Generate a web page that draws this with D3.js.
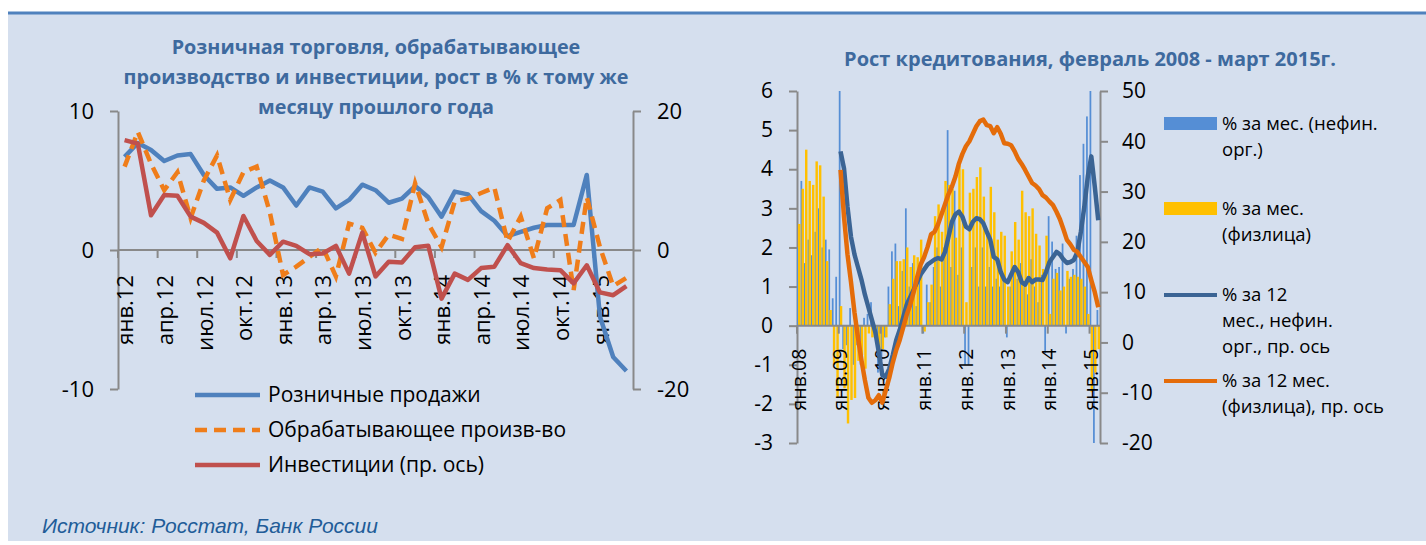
<!DOCTYPE html>
<html lang="ru">
<head>
<meta charset="utf-8">
<title>Розничная торговля и кредитование</title>
<script src="https://cdn.jsdelivr.net/npm/d3@7"></script>
<style>
  body { margin: 0; background: #fff; }
  svg { display: block; font-family: "Open Sans", "Noto Sans", sans-serif; }
</style>
</head>
<body>
<div id="chart"></div>
<script>
// ---- данные ----
const monthNames = ["янв", "фев", "мар", "апр", "май", "июн", "июл", "авг", "сен", "окт", "ноя", "дек"];

// левый график: янв.12 - мар.15
const leftCats = d3.range(39).map((i) => `${monthNames[i % 12]}.${12 + Math.floor(i / 12)}`);
const retail = [6.7, 7.7, 7.2, 6.4, 6.8, 6.9, 5.4, 4.4, 4.5, 3.9, 4.5, 5.0,
  4.5, 3.2, 4.5, 4.2, 3.0, 3.6, 4.7, 4.3, 3.4, 3.7, 4.6, 3.8,
  2.4, 4.2, 4.0, 2.8, 2.1, 1.0, 1.3, 1.6, 1.8, 1.8, 1.8, 5.4,
  -4.8, -7.7, -8.7];
const manuf = [6.0, 8.5, 6.2, 4.3, 5.6, 2.3, 5.0, 6.8, 3.6, 5.6, 6.0, 2.7,
  -1.8, -1.2, -0.5, 0.2, -1.9, 1.9, 1.6, -0.2, 1.1, 0.8, 4.8, 1.9,
  0.2, 3.5, 3.7, 4.1, 4.5, 0.6, 2.4, -0.6, 3.0, 3.6, -2.9, 3.8,
  0.2, -2.6, -2.0];
const invest = [15.8, 15.3, 5.0, 7.9, 7.8, 4.8, 3.9, 2.5, -1.2, 4.9, 1.3, -0.7,
  1.2, 0.6, -0.6, -0.5, 0.6, -3.4, 2.5, -3.8, -1.7, -1.8, 0.4, 0.6,
  -7.0, -3.4, -4.3, -2.6, -2.4, 0.7, -1.9, -2.6, -2.8, -2.9, -4.8, -2.2,
  -6.1, -6.5, -5.2];
const leftTitle = ["Розничная торговля, обрабатывающее",
  "производство и инвестиции, рост в % к тому же", "месяцу прошлого года"];
const leftNames = ["Розничные продажи", "Обрабатывающее произв-во", "Инвестиции (пр. ось)"];
const leftTicks = [-10, 0, 10];
const leftTicksR = [-20, 0, 20];

// правый график: янв.08 - мар.15
const creditCats = d3.range(87).map((i) => `${monthNames[i % 12]}.${String(8 + Math.floor(i / 12)).padStart(2, "0")}`);
const corpMonth = [2.0, 3.7, 1.6, 2.2, 1.8, 2.4, 3.0, 2.0, 2.2, 1.95, 0.7, 1.25,
  6.0, -0.6, -0.5, 0.45, -1.0, -0.5, -1.0, 0.2, 0.3, 0.6, -0.2, -1.2,
  -0.9, -0.3, 1.0, 1.9, 2.1, 0.5, 1.4, 3.0, 1.0, 1.6, 0.5, 1.3,
  -0.2, 1.05, 0.6, 1.5, 2.0, 1.0, 2.0, 5.0, 1.5, 3.45, 1.3, 2.0,
  -1.0, -1.0, 1.5, 2.0, 1.0, 2.0, 1.0, 1.5, 1.0, 1.2, 1.0, 1.3,
  -0.3, 1.0, 1.5, 1.2, 1.6, 1.0, 0.8, 1.7, 1.0, 0.6, 1.3, -0.7,
  2.8, 2.15, 1.45, 1.5, 2.1, -0.2, 1.2, 1.45, 2.3, 3.85, 4.65, 5.35,
  6.0, -3.0, 0.4];
const hhMonth = [2.6, 3.5, 4.5, 3.7, 3.6, 4.2, 4.1, 3.3, 1.65, 0.4, -1.0, -1.85,
  0.5, -1.6, -2.5, -1.9, -1.85, -0.9, -0.75, -1.1, -0.2, -0.3, -0.2, -0.65,
  -0.6, -0.3, 0.55, 1.2, 1.65, 1.65, 1.7, 2.0, 1.5, 1.8, 1.75, 2.2,
  -0.15, 0.6, 1.05, 2.8, 3.1, 2.4, 3.7, 3.6, 3.5, 2.25, 4.1, 4.0,
  0.6, 3.4, 3.5, 3.8, 4.05, 3.3, 2.4, 3.55, 2.9, 2.2, 2.4, 2.3,
  1.0, 1.9, 2.65, 2.2, 3.45, 2.9, 2.8, 3.0, 2.35, 2.05, 1.45, 2.3,
  0.3, 1.2, 1.35, 0.9, 1.0, 1.4, 1.25, 1.3, 1.25, 1.2, 1.0, 0.3,
  -1.7, -1.2, -0.6];
const corp12 = [null, null, null, null, null, null, null, null, null, null, null, null,
  38, 34.6, 27, 21, 17.5, 15, 12.5, 9.5, 7, 4.5, 2, -2,
  -6.5, -6.8, -5.2, -2.5, 0.5, 2.5, 5, 7.5, 9, 10.5, 12, 13.5,
  14.5, 15.5, 16, 16.5, 16.8, 16.5, 18, 21, 24, 25.5, 26, 25,
  23, 22.5, 24, 24.7, 24.5, 23.7, 22, 20.4, 17, 16.5, 14, 12.5,
  12, 13.5, 15, 14, 12, 11.5, 12.8, 12, 12.5, 12.5, 12.4, 14,
  16, 17, 18, 17.5, 16.5, 15.8, 16, 16.4, 18, 22, 27, 33,
  37, 31, 24.3];
const hh12 = [null, null, null, null, null, null, null, null, null, null, null, null,
  34.3, 25, 17.5, 12, 6, 1, -3.5, -7.5, -11, -12, -11.5, -10.5,
  -12, -9.5, -7, -4, -1.5, 0.5, 3, 5.5, 7.5, 10, 13, 15.5,
  17, 19, 21.5, 22, 23.5, 25.5, 27.5, 29.5, 31, 33, 35.6, 37.5,
  39, 40, 41.5, 43, 44, 44.3, 43.2, 43, 41.6, 42.8, 41.5, 39.6,
  39.5, 39.2, 38, 36.5, 35.5, 34.3, 33, 31.7, 31.2, 30.5, 29.3, 28.8,
  28, 27.3, 26, 24.5, 22.5, 20.4, 19.5, 18.4, 18, 17, 16, 15,
  12.4, 10, 7];
const creditTitle = "Рост кредитования, февраль 2008 - март 2015г.";
const creditNames = [["% за мес. (нефин.", "орг.)"], ["% за мес.", "(физлица)"],
  ["% за 12", "мес., нефин.", "орг., пр. ось"], ["% за 12 мес.", "(физлица), пр. ось"]];
const creditTicks = d3.range(-3, 7);
const creditTicksR = d3.range(-20, 51, 10);
const source = "Источник: Росстат, Банк России";

// ---- оформление ----
const W = 1426, H = 545;
const axisColor = "#898989";
const titleColor = "#3E6A9E";
const c = {
  retail: "#4F81BD", manuf: "#EF7D1A", invest: "#C0504D",
  corpBar: "#558ED5", hhBar: "#FFC000", corpLine: "#3B6494", hhLine: "#E46C0A",
};
const fmt = (d) => String(d); // дефис вместо типографского минуса

const svg = d3.select("#chart").append("svg").attr("width", W).attr("height", H);
svg.append("rect").attr("x", 8).attr("y", 14).attr("width", W - 8).attr("height", 527).attr("fill", "#D5DFEE");
svg.append("line").attr("x1", 8).attr("x2", W).attr("y1", 13).attr("y2", 13)
  .attr("stroke", "#4F81BD").attr("stroke-width", 3);

function styleAxis(g, size) {
  g.attr("font-family", null).attr("font-size", size);
  g.select(".domain").attr("stroke", axisColor).attr("stroke-width", 2);
  g.selectAll(".tick line").attr("stroke", axisColor).attr("stroke-width", 2);
  g.selectAll(".tick text").attr("fill", "#000");
}

// ===== левый график =====
const L = { left: 118, right: 633, top: 111, bottom: 389 };
const x1 = d3.scaleBand().domain(leftCats).range([L.left, L.right]);
const y1 = d3.scaleLinear().domain([-10, 10]).range([L.bottom, L.top]);
const y1r = d3.scaleLinear().domain([-20, 20]).range([L.bottom, L.top]);
const bw1 = x1.bandwidth();

svg.append("g").selectAll("text").data(leftTitle).join("text")
  .attr("x", 376).attr("y", (d, i) => 54 + i * 30)
  .attr("text-anchor", "middle").attr("font-size", 19.8).attr("font-weight", "bold")
  .attr("fill", titleColor).text((d) => d);

svg.append("g").attr("transform", `translate(${L.left},0)`)
  .call(d3.axisLeft(y1).tickValues(leftTicks).tickFormat(fmt).tickSize(8).tickSizeOuter(0).tickPadding(16))
  .call((g) => styleAxis(g, 22));
svg.append("g").attr("transform", `translate(${L.right},0)`)
  .call(d3.axisRight(y1r).tickValues(leftTicksR).tickFormat(fmt).tickSize(8).tickSizeOuter(0).tickPadding(16))
  .call((g) => styleAxis(g, 22));

// ось категорий
const cat1 = svg.append("g");
cat1.append("line").attr("x1", L.left).attr("x2", L.right)
  .attr("y1", y1(0)).attr("y2", y1(0)).attr("stroke", axisColor).attr("stroke-width", 2);
const lab1 = leftCats.filter((d, i) => i % 3 === 0);
cat1.selectAll(".tk").data(lab1).join("line").attr("class", "tk")
  .attr("x1", (d) => x1(d)).attr("x2", (d) => x1(d))
  .attr("y1", y1(0)).attr("y2", y1(0) + 8).attr("stroke", axisColor).attr("stroke-width", 2);
cat1.selectAll("text").data(lab1).join("text")
  .attr("transform", (d) => `translate(${x1(d) + bw1 / 2 + 1},${y1(0) + 25}) rotate(-90)`)
  .attr("dy", "0.35em").attr("text-anchor", "end").attr("font-size", 22).text((d) => d);

const line1 = (scale) => d3.line().x((d, i) => x1(leftCats[i]) + bw1 / 2).y((d) => scale(d));
svg.append("path").datum(retail).attr("d", line1(y1)).attr("fill", "none")
  .attr("stroke", c.retail).attr("stroke-width", 4.5).attr("stroke-linejoin", "round");
svg.append("path").datum(manuf).attr("d", line1(y1)).attr("fill", "none")
  .attr("stroke", c.manuf).attr("stroke-width", 4.5).attr("stroke-dasharray", "12,7");
svg.append("path").datum(invest).attr("d", line1(y1r)).attr("fill", "none")
  .attr("stroke", c.invest).attr("stroke-width", 4.5).attr("stroke-linejoin", "round");

// легенда
const leg1 = svg.append("g").selectAll("g").data(leftNames).join("g")
  .attr("transform", (d, i) => `translate(195,${395 + i * 35})`);
leg1.append("line").attr("x1", 0).attr("x2", 65)
  .attr("stroke", (d, i) => [c.retail, c.manuf, c.invest][i]).attr("stroke-width", 4.5)
  .attr("stroke-dasharray", (d, i) => (i === 1 ? "12,7" : null));
leg1.append("text").attr("x", 73).attr("dy", "0.35em").attr("font-size", 21).text((d) => d);

// ===== правый график =====
const R = { left: 797, right: 1100, top: 91, bottom: 443 };
const x2 = d3.scaleBand().domain(creditCats).range([R.left, R.right]);
const y2 = d3.scaleLinear().domain([-3, 6]).range([R.bottom, R.top]).clamp(true);
const y2r = d3.scaleLinear().domain([-20, 50]).range([R.bottom, R.top]);
const bw2 = x2.bandwidth();

svg.append("text").attr("x", 1090).attr("y", 66).attr("text-anchor", "middle")
  .attr("font-size", 20).attr("font-weight", "bold").attr("fill", titleColor).text(creditTitle);

svg.append("g").attr("transform", `translate(${R.left},0)`)
  .call(d3.axisLeft(y2).tickValues(creditTicks).tickFormat(fmt).tickSize(8).tickSizeOuter(0).tickPadding(16))
  .call((g) => styleAxis(g, 21));
svg.append("g").attr("transform", `translate(${R.right},0)`)
  .call(d3.axisRight(y2r).tickValues(creditTicksR).tickFormat(fmt).tickSize(8).tickSizeOuter(0).tickPadding(14))
  .call((g) => styleAxis(g, 21));

// столбики
svg.append("g").selectAll("rect").data(corpMonth).join("rect")
  .attr("x", (d, i) => x2(creditCats[i]))
  .attr("width", bw2 * 0.5)
  .attr("y", (d) => Math.min(y2(d), y2(0)))
  .attr("height", (d) => Math.abs(y2(d) - y2(0)))
  .attr("fill", c.corpBar);
svg.append("g").selectAll("rect").data(hhMonth).join("rect")
  .attr("x", (d, i) => x2(creditCats[i]) + bw2 * 0.3)
  .attr("width", bw2 * 0.7)
  .attr("y", (d) => Math.min(y2(d), y2(0)))
  .attr("height", (d) => Math.abs(y2(d) - y2(0)))
  .attr("fill", c.hhBar);

// ось категорий
const cat2 = svg.append("g");
cat2.append("line").attr("x1", R.left).attr("x2", R.right)
  .attr("y1", y2(0)).attr("y2", y2(0)).attr("stroke", axisColor).attr("stroke-width", 2);
const lab2 = creditCats.filter((d, i) => i % 12 === 0);
cat2.selectAll(".tk").data(lab2).join("line").attr("class", "tk")
  .attr("x1", (d) => x2(d)).attr("x2", (d) => x2(d))
  .attr("y1", y2(0)).attr("y2", y2(0) + 8).attr("stroke", axisColor).attr("stroke-width", 2);
cat2.selectAll("text").data(lab2).join("text")
  .attr("transform", (d) => `translate(${x2(d) + bw2 / 2},${y2(0) + 23}) rotate(-90)`)
  .attr("dy", "0.35em").attr("text-anchor", "end").attr("font-size", 19.5).text((d) => d);

const line2 = d3.line().defined((d) => d != null)
  .x((d, i) => x2(creditCats[i]) + bw2 / 2).y((d) => y2r(d));
svg.append("path").datum(corp12).attr("d", line2).attr("fill", "none")
  .attr("stroke", c.corpLine).attr("stroke-width", 4.5).attr("stroke-linejoin", "round");
svg.append("path").datum(hh12).attr("d", line2).attr("fill", "none")
  .attr("stroke", c.hhLine).attr("stroke-width", 4.5).attr("stroke-linejoin", "round");

// легенда
const legY = [124, 209, 295, 381];
const leg2 = svg.append("g").selectAll("g").data(creditNames).join("g")
  .attr("transform", (d, i) => `translate(1164,${legY[i]})`);
leg2.filter((d, i) => i < 2).append("rect")
  .attr("y", -7).attr("width", 53).attr("height", 13)
  .attr("fill", (d, i) => [c.corpBar, c.hhBar][i]);
leg2.filter((d, i) => i >= 2).append("line").attr("x2", 53)
  .attr("stroke", (d, i) => [c.corpLine, c.hhLine][i]).attr("stroke-width", 4);
leg2.append("text").attr("x", 58).attr("font-size", 18.5)
  .selectAll("tspan").data((d) => d).join("tspan")
  .attr("x", 58).attr("y", (d, i) => i * 26).attr("dy", "0.35em").text((d) => d);

// источник
svg.append("text").attr("x", 42).attr("y", 533).attr("font-family", "Liberation Sans, Arial, sans-serif")
  .attr("font-style", "italic").attr("font-size", 21).attr("fill", "#215C98").text(source);
</script>
</body>
</html>
